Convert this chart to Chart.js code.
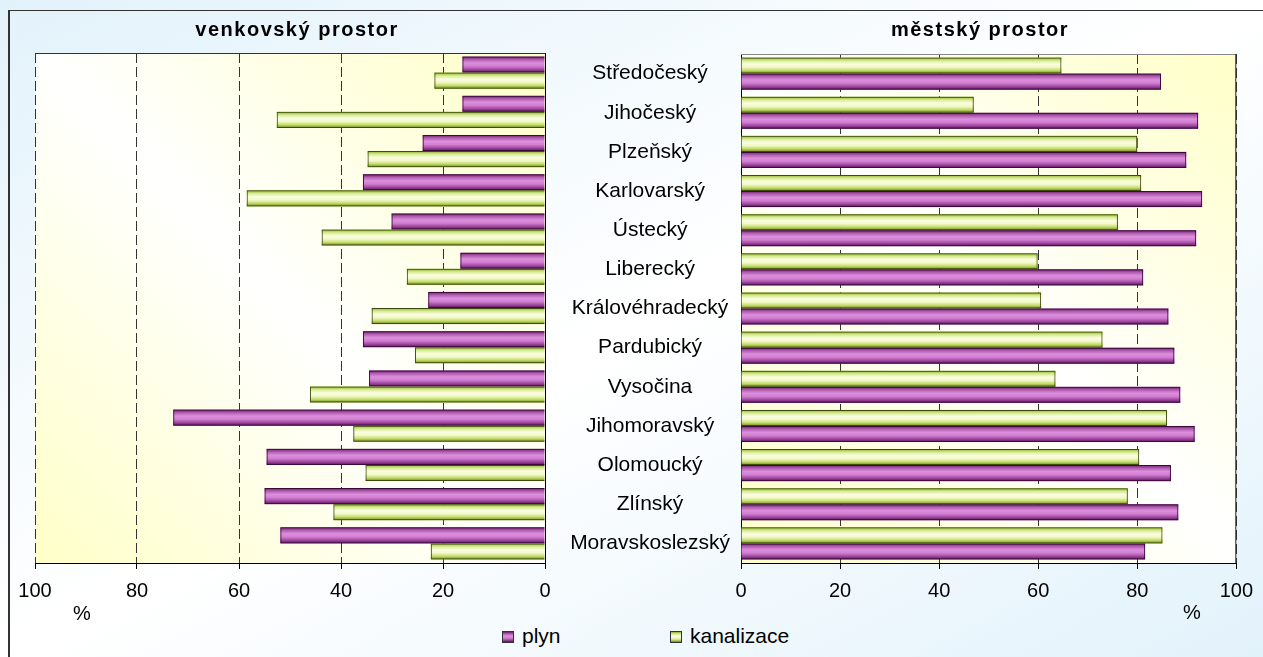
<!DOCTYPE html>
<html>
<head>
<meta charset="utf-8">
<script src="https://cdn.jsdelivr.net/npm/chart.js@4.4.1/dist/chart.umd.min.js"></script>
<style>
  html, body { margin: 0; padding: 0; }
  body { width: 1263px; height: 657px; overflow: hidden; font-family: 'Liberation Sans', Arial, sans-serif; }
  #page { position: relative; width: 1263px; height: 657px;
    background: linear-gradient(to bottom right, #e2f2fb 0%, #ffffff 50%, #e2f2fb 100%); }
  #frame { position: absolute; left: 8px; top: 10px; right: -10px; bottom: -10px;
    border-left: 2px solid #333; border-top: 1px solid #333; }
  .box { position: absolute; top: 0; height: 620px; }
  #leftBox { left: 0; width: 560px; }
  #rightBox { left: 560px; width: 703px; }
  .pct { position: absolute; font-size: 20px; line-height: 20px; color: #000; }
  .key { position: absolute; top: 631px; width: 10px; height: 10px; border: 1px solid #333; }
  .keyText { position: absolute; top: 624px; font-size: 21px; line-height: 24px; color: #000; }
</style>
</head>
<body>
<div id="page">
  <div id="frame"></div>
  <div class="box" id="leftBox"><canvas id="left"></canvas></div>
  <div class="box" id="rightBox"><canvas id="right"></canvas></div>
  <div class="pct" style="left:73px;top:603px">%</div>
  <div class="pct" style="left:1183px;top:602px">%</div>
  <div class="key" id="keyGas" style="left:502px"></div>
  <div class="keyText" style="left:522px">plyn</div>
  <div class="key" id="keySewer" style="left:670px"></div>
  <div class="keyText" style="left:690px">kanalizace</div>
</div>
<script>
// kraje
const regions = ['Středočeský', 'Jihočeský', 'Plzeňský', 'Karlovarský', 'Ústecký', 'Liberecký',
  'Královéhradecký', 'Pardubický', 'Vysočina', 'Jihomoravský', 'Olomoucký', 'Zlínský', 'Moravskoslezský'];

// venkovský prostor (%)
const ruralGas   = [16.2, 16.2, 24.0, 35.7, 30.1, 16.6, 22.9, 35.7, 34.5, 72.9, 54.6, 55.0, 51.9];
const ruralSewer = [21.7, 52.6, 34.8, 58.5, 43.8, 27.1, 34.0, 25.5, 46.1, 37.6, 35.2, 41.5, 22.4];

// městský prostor (%)
const urbanGas   = [84.8, 92.3, 89.9, 93.1, 91.9, 81.2, 86.3, 87.5, 88.7, 91.6, 86.8, 88.3, 81.6];
const urbanSewer = [64.7, 47.0, 80.0, 80.8, 76.1, 59.9, 60.6, 73.0, 63.5, 86.0, 80.4, 78.1, 85.1];

const xTicks = [0, 20, 40, 60, 80, 100];

const shades = {
  plyn: ['#6e1f6e', '#b460b4', '#dc8fdc', '#d27ed2', '#a04aa0', '#5a105a'],
  kanalizace: ['#8fb02a', '#d8ec94', '#fbfde2', '#f2f9c8', '#c4dc6c', '#6c8a18']
};

document.getElementById('keyGas').style.background =
  'linear-gradient(to bottom, ' + shades.plyn.join(',') + ')';
document.getElementById('keySewer').style.background =
  'linear-gradient(to bottom, ' + shades.kanalizace.join(',') + ')';

const plotDeco = {
  id: 'plotDeco',
  beforeDraw(chart) {
    const { ctx, chartArea: a } = chart;
    const g = ctx.createLinearGradient(a.right, a.top, a.left, a.bottom);
    g.addColorStop(0, '#ffffc8');
    g.addColorStop(0.5, '#ffffff');
    g.addColorStop(1, '#ffffc8');
    ctx.save();
    ctx.fillStyle = g;
    ctx.fillRect(a.left, a.top, a.right - a.left, a.bottom - a.top);
    ctx.restore();
  },
  beforeDatasetsDraw(chart) {
    const ctx = chart.ctx;
    ctx.save();
    chart.data.datasets.forEach((ds, i) => {
      const cols = shades[ds.label];
      chart.getDatasetMeta(i).data.forEach(el => {
        const x0 = Math.min(el.x, el.base), x1 = Math.max(el.x, el.base);
        const y0 = el.y - el.height / 2, y1 = el.y + el.height / 2;
        const g = ctx.createLinearGradient(0, y0, 0, y1);
        cols.forEach((c, k) => g.addColorStop(k / (cols.length - 1), c));
        ctx.fillStyle = g;
        ctx.fillRect(x0, y0, x1 - x0, y1 - y0);
      });
    });
    ctx.restore();
  },
  afterDraw(chart, args, o) {
    const { ctx, chartArea: a } = chart;
    ctx.save();
    ctx.lineWidth = 1;
    ctx.strokeStyle = o.topColor;
    ctx.beginPath();
    ctx.moveTo(a.left, a.top + 0.5);
    ctx.lineTo(a.right, a.top + 0.5);
    ctx.stroke();
    if (o.rightColor) {
      ctx.strokeStyle = o.rightColor;
      ctx.beginPath();
      ctx.moveTo(a.right - 0.5, a.top);
      ctx.lineTo(a.right - 0.5, a.bottom);
      ctx.stroke();
    }
    ctx.font = 'bold 20px "Liberation Sans", Arial, sans-serif';
    ctx.letterSpacing = '1.5px';
    ctx.fillStyle = '#000';
    ctx.textAlign = 'center';
    ctx.textBaseline = 'middle';
    ctx.fillText(o.title, o.titleX, 30);
    ctx.restore();
  }
};

function bars(label, data) {
  return {
    label: label,
    data: data,
    backgroundColor: 'rgba(0,0,0,0)',
    borderColor: label === 'plyn' ? '#3a0a3a' : '#3c4c0c',
    borderWidth: 1,
    borderSkipped: 'start',
    categoryPercentage: 0.82,
    barPercentage: 1.0
  };
}

function options(left) {
  return {
    indexAxis: 'y',
    responsive: true,
    maintainAspectRatio: false,
    animation: false,
    layout: { padding: left ? { left: 35, right: 15, top: 53, bottom: 7 } : { left: 0, right: 19, top: 54, bottom: 7 } },
    plugins: {
      legend: { display: false },
      tooltip: { enabled: false },
      plotDeco: left
        ? { title: 'venkovský prostor', titleX: 297, topColor: '#333' }
        : { title: 'městský prostor', titleX: 420, topColor: '#888', rightColor: '#222' }
    },
    scales: {
      x: {
        type: 'linear', min: 0, max: 100, reverse: left,
        afterBuildTicks: s => { s.ticks = xTicks.map(v => ({ value: v })); },
        grid: { color: '#333', lineWidth: 1, tickColor: '#000', tickLength: 6, tickBorderDash: [] },
        border: { color: '#000', dash: [10, 4] },
        ticks: { color: '#000', font: { size: 20, family: '"Liberation Sans", Arial, sans-serif' }, padding: 10, maxRotation: 0 }
      },
      y: {
        position: left ? 'right' : 'left',
        grid: { display: false, drawTicks: false },
        border: { color: '#000' },
        ticks: left ? { display: false } : {
          color: '#000', font: { size: 21, family: '"Liberation Sans", Arial, sans-serif' },
          padding: 11, crossAlign: 'center', autoSkip: false
        },
        afterFit: s => { s.width = left ? 0 : 181; }
      }
    }
  };
}

new Chart(document.getElementById('left'), {
  type: 'bar',
  data: { labels: regions, datasets: [bars('plyn', ruralGas), bars('kanalizace', ruralSewer)] },
  options: options(true),
  plugins: [plotDeco]
});

new Chart(document.getElementById('right'), {
  type: 'bar',
  data: { labels: regions, datasets: [bars('kanalizace', urbanSewer), bars('plyn', urbanGas)] },
  options: options(false),
  plugins: [plotDeco]
});
</script>
</body>
</html>
